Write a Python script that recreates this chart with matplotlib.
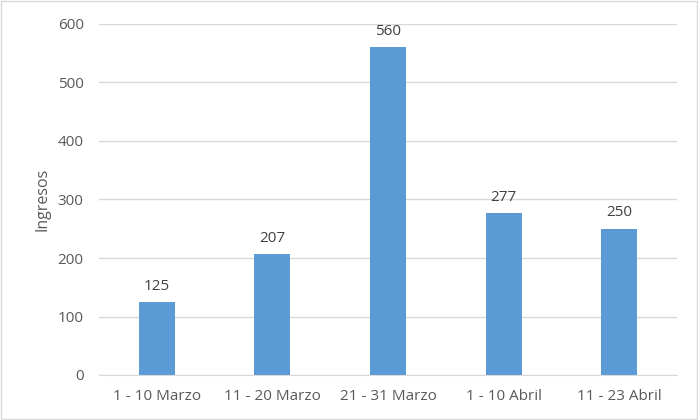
import matplotlib
matplotlib.use("Agg")
import matplotlib.pyplot as plt
from matplotlib.patches import Rectangle

categories = ["1 - 10 Marzo", "11 - 20 Marzo", "21 - 31 Marzo", "1 - 10 Abril", "11 - 23 Abril"]
values = [125, 207, 560, 277, 250]
yticks = [0, 100, 200, 300, 400, 500, 600]

plt.rcParams['font.family'] = ['Open Sans', 'DejaVu Sans']
txt = '#595959'
bar_c = '#5B9BD5'
grid_c = '#D9D9D9'

fig = plt.figure(figsize=(6.98, 4.2), dpi=100)
ax = fig.add_axes([99/698, 1-375/420, (677-99)/698, (375-24)/420])

x = list(range(len(categories)))
ax.bar(x, values, width=0.31, color=bar_c, zorder=3)
for xi, v in zip(x, values):
    ax.annotate(str(v), (xi, v), xytext=(0, 6), textcoords='offset points',
                ha='center', va='bottom', fontsize=11, color='#404040')

ax.set_xlim(-0.5, len(categories) - 0.5)
ax.set_ylim(0, 600)
ax.set_yticks(yticks)
ax.set_xticks(x)
ax.set_xticklabels(categories)
ax.tick_params(axis='both', length=0, labelsize=11, colors=txt)
ax.tick_params(axis='y', pad=11)
ax.tick_params(axis='x', pad=10)
ax.yaxis.grid(True, color=grid_c, linewidth=1, zorder=0)
for s in ['top', 'right', 'left']:
    ax.spines[s].set_visible(False)
ax.spines['bottom'].set_color(grid_c)
ax.spines['bottom'].set_zorder(4)
ax.set_ylabel("Ingresos", fontsize=11.5, color=txt, labelpad=5)

fig.patches.append(Rectangle((0.002, 0.002), 0.996, 0.995, transform=fig.transFigure,
                             fill=False, edgecolor=grid_c, linewidth=1))

fig.savefig("out.png", dpi=100)
